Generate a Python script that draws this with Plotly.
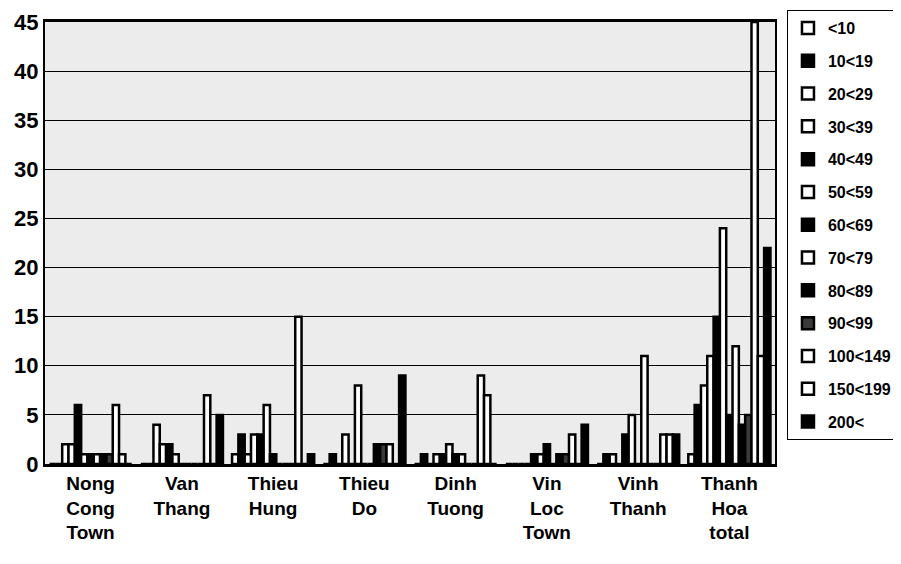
import plotly.graph_objects as go

categories = ["Nong<br>Cong<br>Town", "Van<br>Thang", "Thieu<br>Hung", "Thieu<br>Do",
              "Dinh<br>Tuong", "Vin<br>Loc<br>Town", "Vinh<br>Thanh", "Thanh<br>Hoa<br>total"]

series_names = ["<10", "10<19", "20<29", "30<39", "40<49", "50<59", "60<69",
                "70<79", "80<89", "90<99", "100<149", "150<199", "200<"]

v_lt10    = [0, 0, 1, 0, 0, 0, 0, 1]
v_10_19   = [0, 0, 3, 1, 1, 0, 1, 6]
v_20_29   = [2, 4, 1, 0, 0, 0, 1, 8]
v_30_39   = [2, 2, 3, 3, 1, 0, 0, 11]
v_40_49   = [6, 2, 3, 0, 1, 1, 3, 15]
v_50_59   = [1, 1, 6, 8, 2, 1, 5, 24]
v_60_69   = [1, 0, 1, 0, 1, 2, 0, 5]
v_70_79   = [1, 0, 0, 0, 1, 0, 11, 12]
v_80_89   = [1, 0, 0, 2, 0, 1, 0, 4]
v_90_99   = [1, 0, 0, 2, 0, 1, 0, 5]
v_100_149 = [6, 7, 15, 2, 9, 3, 3, 45]
v_150_199 = [1, 0, 0, 0, 7, 0, 3, 11]
v_200     = [0, 5, 1, 9, 0, 4, 3, 22]

all_values = [v_lt10, v_10_19, v_20_29, v_30_39, v_40_49, v_50_59, v_60_69,
              v_70_79, v_80_89, v_90_99, v_100_149, v_150_199, v_200]
fills = ["white", "black", "white", "white", "black", "white", "black",
         "white", "black", "#3a3a3a", "white", "white", "black"]

FONT = "Liberation Sans"

fig = go.Figure()
for i, (name, vals, col) in enumerate(zip(series_names, all_values, fills)):
    fig.add_trace(go.Bar(
        name=name, x=categories, y=vals,
        marker=dict(color=col, line=dict(color="black", width=2.5)),
        legendgroup=f"g{i}",
    ))

fig.update_layout(
    width=893, height=556,
    barmode="group", bargap=0.1, bargroupgap=0,
    paper_bgcolor="white", plot_bgcolor="#ececec",
    margin=dict(l=37, r=126, t=14, b=100, autoexpand=False),
    font=dict(family=FONT, color="black"),
    showlegend=True,
    legend=dict(
        x=1.0164, y=1.027, xanchor="left", yanchor="top",
        bordercolor="black", borderwidth=1, bgcolor="white",
        font=dict(family=FONT, size=16, color="black", weight="bold"),
        traceorder="grouped", tracegroupgap=9,
        itemwidth=30, maxheight=550,
    ),
)
fig.update_yaxes(
    range=[0, 45], dtick=5, tick0=0,
    showgrid=True, gridcolor="black", gridwidth=1,
    showline=True, linecolor="black", linewidth=2, mirror=True,
    ticks="", zeroline=False, ticklabeloverflow="allow",
    tickfont=dict(family=FONT, size=22, color="black", weight="bold"),
)
fig.update_xaxes(
    showline=True, linecolor="black", linewidth=3, mirror=True,
    ticks="", showgrid=False,
    tickfont=dict(family=FONT, size=19, color="black", weight="bold"),
    tickangle=0,
)

fig.write_html("out.html")
